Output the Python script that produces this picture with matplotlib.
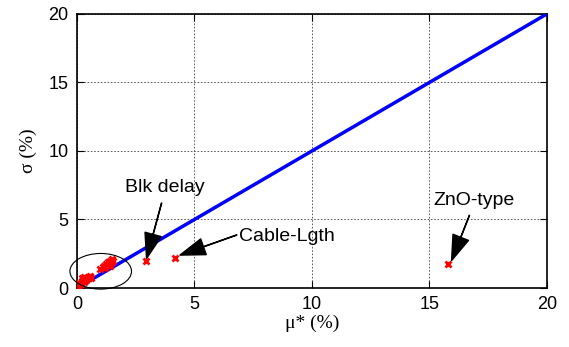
import matplotlib
matplotlib.use("Agg")
import matplotlib.pyplot as plt
from matplotlib.patches import Ellipse

# sensitivity results: mu* vs sigma (both in %)
mu_star = [0.0, 0.05, 0.1, 0.15, 0.2, 0.25, 0.3, 0.35, 0.4, 0.45, 0.5, 0.55, 0.6, 0.3, 0.2, 0.1,
           1.0, 1.1, 1.15, 1.2, 1.25, 1.3, 1.35, 1.4, 1.45, 1.5, 1.4, 1.55,
           2.95, 4.15, 15.8]
sigma = [0.05, 0.2, 0.35, 0.3, 0.5, 0.6, 0.45, 0.7, 0.55, 0.8, 0.75, 0.85, 0.7, 0.8, 0.7, 0.1,
         1.4, 1.5, 1.6, 1.45, 1.75, 1.9, 1.7, 2.0, 1.85, 2.1, 1.6, 1.95,
         1.95, 2.2, 1.75]

# reference line sigma = mu*
line_x = [0, 5, 10, 15, 20]
line_y = [0, 5, 10, 15, 20]

# labels: (text, text position, arrow tip)
notes = [
    ("Blk delay", (3.75, 7.3), (2.96, 2.15)),
    ("Cable-Lgth", (6.9, 3.75), (4.38, 2.4)),
    ("ZnO-type", (16.9, 6.4), (15.94, 2.0)),
]
note_align = ["center", "left", "center"]
note_tail = [(3.6, 6.2), (6.8, 3.87), (16.7, 5.3)]

fig = plt.figure(figsize=(5.69, 3.47), dpi=100)
ax = fig.add_axes([0.1353, 0.170, 0.826, 0.790])

ax.plot(line_x, line_y, color="#0000ff", linewidth=2.5, zorder=3)
ax.plot(mu_star, sigma, "x", color="red", markersize=5, markeredgewidth=2, zorder=4)

ax.add_patch(Ellipse((1.01, 1.22), 2.62, 2.6, fill=False, edgecolor="black",
                     linewidth=0.8, clip_on=False, zorder=5))

for (txt, pos, tip), ha, tail in zip(notes, note_align, note_tail):
    ax.text(pos[0], pos[1], txt, ha=ha, va="center",
            fontsize=14, family="Liberation Sans")
    ax.annotate("", xy=tip, xytext=tail,
                arrowprops=dict(facecolor="black", edgecolor="black", width=0.2,
                                headwidth=12, headlength=18, shrink=0.0))

ax.set_xlim(0, 20)
ax.set_ylim(0, 20)
ax.set_xticks([0, 5, 10, 15, 20])
ax.set_yticks([0, 5, 10, 15, 20])
ax.grid(True, linestyle=(0, (2, 2)), color="#444444", linewidth=0.6)
ax.tick_params(direction="in", top=True, right=True, length=5, labelsize=13, pad=6)
for lab in ax.get_xticklabels() + ax.get_yticklabels():
    lab.set_family("Liberation Sans")
for s in ax.spines.values():
    s.set_linewidth(1.2)

ax.set_xlabel("μ* (%)", family="Liberation Serif", fontsize=14, labelpad=1)
ax.set_ylabel("σ (%)", family="Liberation Serif", fontsize=14, labelpad=8)

fig.savefig("out.png", dpi=100)
